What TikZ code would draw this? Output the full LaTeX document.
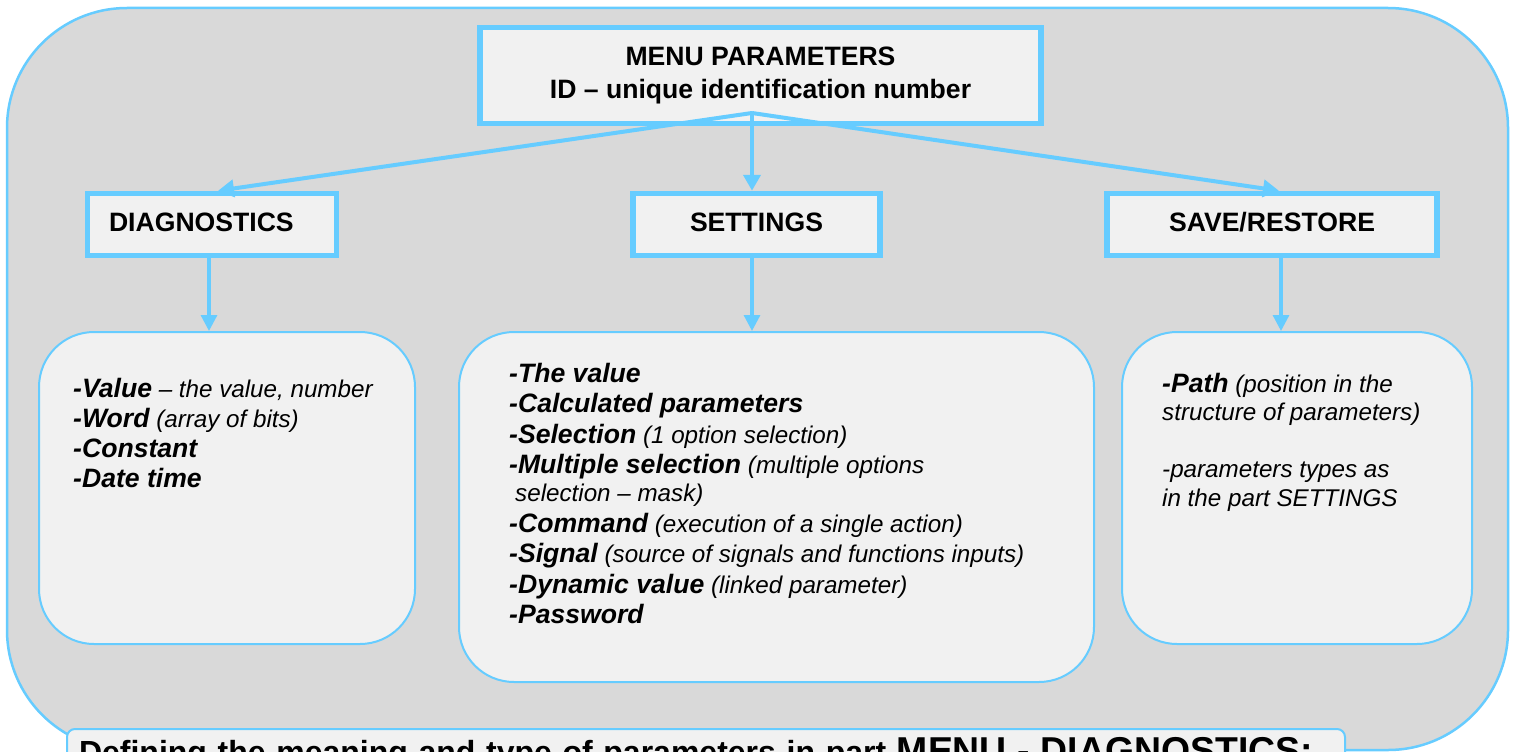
\documentclass[tikz,border=0pt]{standalone}
\usepackage{fontspec}
\setmainfont{Liberation Sans}
\usetikzlibrary{arrows.meta}

\definecolor{skyline}{HTML}{66CCFF}
\definecolor{panelgrey}{HTML}{D9D9D9}
\definecolor{boxfill}{HTML}{F1F1F1}

% bold italic item name inside the lists
\newcommand{\itemname}[1]{{\fontsize{26.6}{30}\selectfont\bfseries\itshape #1}}
% fixes the height of the first line of a list
\newcommand{\firststrut}{\rule{0pt}{22pt}}

\begin{document}
\begin{tikzpicture}[x=1pt,y=-1pt,
  headbox/.style={draw=skyline, line width=5.5pt, fill=boxfill, inner ysep=0pt,
    font=\fontsize{26.6}{33}\selectfont\bfseries},
  listbox/.style={draw=skyline, line width=2pt, fill=boxfill, rounded corners=55pt, inner sep=0pt},
  listtext/.style={anchor=north west, inner sep=0pt, align=left,
    font=\fontsize{24.2}{30}\selectfont\itshape},
  link/.style={draw=skyline, line width=4pt, -{Triangle[length=16pt,width=17pt]}},
  drop/.style={draw=skyline, line width=3.2pt, -{Triangle[length=16pt,width=16pt]}}
]
\useasboundingbox (0,0) rectangle (1513,752);
\fill[white] (0,0) rectangle (1513,752);

% outer panel
\draw[draw=skyline, line width=2.5pt, fill=panelgrey, rounded corners=120pt] (7,8) rectangle (1508,750);

% top level
\node[headbox, minimum width=561pt, minimum height=96pt, align=center] (menu) at (760.5,75.5)
  {MENU PARAMETERS\\ID – unique identification number};

% second level
\node[headbox, minimum width=249pt, minimum height=62pt, inner xsep=21.5pt, text width=206pt,
  align=left, text height=13pt, text depth=0pt] (diag) at (212,224.5) {DIAGNOSTICS};
\node[headbox, minimum width=247pt, minimum height=62pt, text height=13pt, text depth=0pt]
  (set) at (756.5,224.5) {SETTINGS};
\node[headbox, minimum width=330pt, minimum height=62pt, text height=13pt, text depth=0pt]
  (save) at (1272,224.5) {SAVE/RESTORE};

% list panels
\node[listbox, minimum width=376pt, minimum height=312pt] (dbox) at (227,488) {};
\node[listbox, minimum width=635pt, minimum height=350pt] (sbox) at (776.5,507) {};
\node[listbox, minimum width=350pt, minimum height=312pt] (rbox) at (1297,488) {};

\node[listtext] (dtext) at (73,375) {\firststrut\itemname{-Value} – the value, number\\
  \itemname{-Word} (array of bits)\\
  \itemname{-Constant}\\
  \itemname{-Date time}};

\node[listtext, font=\fontsize{24.2}{30.5}\selectfont\itshape] (stext) at (509,360)
  {\firststrut\itemname{-The value}\\
  \itemname{-Calculated parameters}\\
  \itemname{-Selection} (1 option selection)\\
  \itemname{-Multiple selection} (multiple options\\[-2.5pt]
  \hspace*{6pt}selection – mask)\\
  \itemname{-Command} (execution of a single action)\\
  \itemname{-Signal} (source of signals and functions inputs)\\
  \itemname{-Dynamic value} (linked parameter)\\
  \itemname{-Password}};

\node[listtext, font=\fontsize{24.2}{28.5}\selectfont\itshape] (rtext) at (1162,370)
  {\firststrut\itemname{-Path} (position in the\\
  structure of parameters)\\[28.5pt]
  -parameters types as\\
  in the part SETTINGS};

% connectors
\coordinate (hub) at (752,113);
\draw[link] (hub) -- ([xshift=6pt]diag.north);
\draw[link] (hub) -- (hub |- set.north);
\draw[link] (hub) -- ([xshift=7pt]save.north);

\draw[drop] ([xshift=-3pt,yshift=5pt]diag.south) -- ([xshift=-3pt]diag.south |- dbox.north);
\draw[drop] ([yshift=5pt]hub |- set.south) -- (hub |- sbox.north);
\draw[drop] ([xshift=9pt,yshift=5pt]save.south) -- ([xshift=9pt]save.south |- rbox.north);

% caption strip, running past the lower edge
\node[draw=skyline, line width=2pt, fill=boxfill, rounded corners=8pt, anchor=north west,
  inner xsep=12pt, inner ysep=0pt, text width=1254pt, align=left,
  text height=34pt, text depth=40pt, font=\fontsize{32}{36}\selectfont\bfseries]
  (note) at (66,728)
  {Defining the meaning and type of parameters in part {\fontsize{37.4}{40}\selectfont MENU - DIAGNOSTICS:}};
\end{tikzpicture}
\end{document}
